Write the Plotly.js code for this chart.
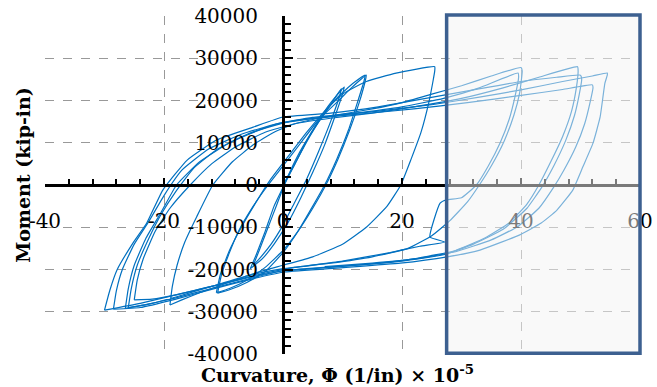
<!DOCTYPE html>
<html><head><meta charset="utf-8">
<script src="https://cdn.plot.ly/plotly-3.0.1.min.js"></script>
<style>html,body{margin:0;padding:0;background:#fff}#chart{width:657px;height:387px}</style>
</head><body><div id="chart"></div>
<script>
// Moment (kip-in) vs Curvature (1e-5 1/in), hysteresis cycles
const loop1 = [[0,0],[2,5000],[4,10500],[6,15000],[8,19000],[9.8,22800],[9.5,21000],[8,15000],[6,8000],[4,1500],[2,-4000],[0,-9500],[-2,-14000],[-4,-17500],[-5,-19000]];
const loop2 = [[-5,-19000],[-4,-15500],[-2.5,-10000],[-1,-4500],[0.5,1000],[2.5,7000],[5,13000],[7.5,18500],[9.5,22000],[10.3,23200],[10,21500],[8.8,16500],[7,9500],[5,3000],[3,-3000],[1,-8500],[-1.5,-14000],[-3.5,-17500],[-5.5,-19800]];
const loop3 = [[-5.5,-19800],[-4.5,-16500],[-3,-11000],[-1.5,-5000],[0.2,0],[2,5000],[4.5,11500],[7,17000],[9,20500],[10.5,22500],[12,24300],[13.8,26000],[13.6,24500],[12.5,19500],[11,13000],[9,6000],[7,0],[5,-5000],[2.5,-11000],[0,-16000],[-3,-20500],[-6,-23000],[-9,-24800],[-11,-25600]];
const loop4 = [[-11,-25600],[-10.3,-21000],[-9,-16000],[-7.5,-11000],[-5,-5000],[-2.5,0],[0,4500],[3,10000],[6,15500],[9,19500],[11.5,23000],[14,26000],[13.8,24500],[12.8,19500],[11.2,13000],[9.2,6000],[7.2,0],[5,-5500],[2.5,-11000],[0,-15500],[-3,-19500],[-6,-22500],[-9,-24500],[-11.2,-25500]];
const loop5 = [[-11.2,-25500],[-10.5,-21000],[-9,-15500],[-7,-10000],[-4.5,-4000],[-2,1500],[1,7000],[4,12500],[7,17500],[10,21500],[14,24500],[19,26500],[25.5,28000],[25.5,27000],[25.2,24500],[24.5,19500],[23.2,12500],[21.5,6000],[19.8,0],[17.5,-5000],[14,-10000],[10,-14000],[5,-17000],[0,-19000],[-5,-21000],[-10,-23500],[-14,-25500],[-17,-27200],[-19,-28400]];
const loop6 = [[-19,-28400],[-18.6,-24000],[-17.8,-19000],[-16.5,-13500],[-14.5,-7500],[-11.8,0],[-8.5,5500],[-5,9500],[-1.5,12500],[2,14500],[6,15800],[10,16800],[15,18000],[20,19500],[25,21500],[30,23500],[35,25800],[40,27800],[40.2,27000],[39.8,22000],[38.8,16500],[37.2,10500],[35,4500],[33,0],[31,-4000],[28,-8500],[25,-12000],[21,-15000],[15,-17000],[8,-18500],[0,-19800],[-6,-21500],[-12,-24000],[-18,-26500],[-22,-28000],[-26,-29000]];
const loop7 = [[-26,-29000],[-25.5,-24500],[-24.5,-19000],[-22.5,-12500],[-20.5,-7000],[-18,-1500],[-15,4000],[-11,8500],[-6,12000],[-1,14500],[5,16000],[12,17000],[20,18500],[27,20500],[33,23000],[39.5,26500],[39.6,25500],[39,21000],[38,15500],[36.5,10000],[34.5,4500],[32.5,0],[30,-3000],[27.5,-3500],[26.4,-4300],[24.7,-12300],[27.2,-13500],[23,-14500],[18,-16000],[10,-18000],[2,-19500],[-5,-21500],[-12,-24000],[-18,-26000],[-22,-27000],[-25,-27200]];
const loop8 = [[-25,-27200],[-24.5,-22500],[-23.5,-17500],[-21.5,-11000],[-19,-5500],[-15.6,0],[-12,5000],[-8,9000],[-3,12500],[2,14500],[8,15800],[15,17000],[22,18500],[30,20500],[37,23000],[43,25500],[49.5,28000],[49.6,27000],[49.3,23000],[48.5,17500],[47,11500],[45,5500],[43,0],[41,-4500],[38,-9000],[34,-12500],[29,-15500],[22,-17500],[14,-18800],[5,-19800],[0,-20300],[-6,-22000],[-12,-24000],[-18,-26000],[-24,-28000],[-30,-29600]];
const loop9 = [[-30,-29600],[-29.1,-24900],[-27.9,-20100],[-25.2,-13700],[-22.9,-9000],[-20.2,-1200],[-16.1,5900],[-11.1,10700],[-5,13700],[0,16100],[8,17000],[16,18500],[24,20500],[32,22500],[40,24500],[46,25500],[50,26000],[50.2,25000],[49.8,21500],[49,16500],[47.5,10500],[45.5,4500],[43.5,-500],[41,-5500],[37,-10500],[32,-14000],[27,-16500],[20,-18000],[12,-19000],[4,-19800],[0,-20300],[-6,-22300],[-12,-24500],[-18,-26700],[-23,-28300],[-26.5,-29200]];
const loop10 = [[-26.5,-29200],[-26,-24500],[-25,-19000],[-23,-12500],[-20.5,-6500],[-17.9,0],[-14,5500],[-9,10000],[-4,13000],[1,15000],[8,16300],[16,17500],[25,19000],[33,20800],[40,22500],[47,24500],[52,25800],[54.5,26500],[54.5,26000],[54.1,24100],[53.3,16100],[52.1,9900],[50.4,4300],[48.7,-1200],[46,-6000],[43.4,-9000],[39.8,-11800],[33.1,-15400],[27.6,-17000],[19.7,-18500],[9.6,-19600],[0.3,-20600],[-6,-22500],[-12,-24700],[-18,-27000],[-24,-29000],[-28.5,-29400]];
const loop11 = [[-28.5,-29400],[-28,-25000],[-27,-20000],[-25,-14000],[-22.5,-8500],[-20,-2500],[-17,3500],[-12.5,8500],[-7,12000],[-1.5,14300],[5,15700],[13,16800],[22,18000],[31,19500],[40,21200],[47,22600],[52,23700],[52.1,23000],[51.6,19500],[50.7,14500],[49.2,9000],[47.2,3500],[45.5,-500],[43,-5500],[39.5,-9800],[35,-13000],[29,-15800],[22,-17500],[15,-18500],[7,-19300]];

const xTickVals = [-40,-20,0,20,40,60];
const xTickText = ["-40","-20","0","20","40","60"];
const yTickVals = [-40000,-30000,-20000,-10000,0,10000,20000,30000,40000];
const yTickText = ["-40000","-30000","-20000","-10000","0","10000","20000","30000","40000"];
const xRange = [-40,60];
const yRange = [-40000,40000];
const boxRegion = {x0:27.5, x1:60};

const loops = [loop1,loop2,loop3,loop4,loop5,loop6,loop7,loop8,loop9,loop10,loop11];
const traces = loops.map(l => ({
  x: l.map(p=>p[0]), y: l.map(p=>p[1]),
  type:'scatter', mode:'lines', hoverinfo:'skip', showlegend:false,
  line:{color:'#0070C0', width:1.2, shape:'spline', smoothing:0.4}
}));

const toPaperX = v => (v - xRange[0]) / (xRange[1] - xRange[0]);

const tf = {family:'DejaVu Serif, serif', size:20, color:'#000'};
const layout = {
  width:657, height:387,
  margin:{l:45, r:17, t:16, b:33},
  paper_bgcolor:'#fff', plot_bgcolor:'#fff',
  showlegend:false,
  xaxis:{range:xRange, tickmode:'array', tickvals:xTickVals, ticktext:xTickText,
    anchor:'free', position:0.5, showline:true, linecolor:'#000', linewidth:3,
    zeroline:false, showgrid:true, gridcolor:'#999', griddash:'dash', gridwidth:1,
    ticks:'inside', ticklen:6, tickwidth:2, tickcolor:'#000', ticklabelstandoff:17,
    minor:{dtick:4, tick0:0, ticks:'inside', ticklen:5, tickwidth:2, tickcolor:'#000', showgrid:false},
    tickfont:tf, fixedrange:true},
  yaxis:{range:yRange, tickmode:'array', tickvals:yTickVals, ticktext:yTickText,
    anchor:'free', position:toPaperX(0), showline:true, linecolor:'#000', linewidth:3,
    zeroline:false, showgrid:true, gridcolor:'#999', griddash:'dash', gridwidth:1,
    ticks:'inside', ticklen:8, tickwidth:2, tickcolor:'#000', ticklabelstandoff:20,
    minor:{dtick:2000, tick0:0, ticks:'inside', ticklen:6, tickwidth:2, tickcolor:'#000', showgrid:false},
    tickfont:tf, fixedrange:true},
  shapes:[{type:'rect', xref:'paper', yref:'paper', x0:toPaperX(boxRegion.x0), x1:toPaperX(boxRegion.x1), y0:0.002, y1:1.003,
    line:{color:'#3D6090', width:3.5}, fillcolor:'rgba(244,244,244,0.5)', layer:'above'}],
  annotations:[
    {text:'Moment (kip-in)', xref:'paper', yref:'paper', x:-0.037, y:0.53, xanchor:'center', yanchor:'middle',
     textangle:-90, showarrow:false, font:{family:'DejaVu Serif, serif', size:19, color:'#000', weight:'bold'}},
    {text:'Curvature, Φ (1/in) × 10<sup>-5</sup>', xref:'paper', yref:'paper', x:0.492, y:-0.06, xanchor:'center', yanchor:'middle',
     showarrow:false, font:{family:'DejaVu Serif, serif', size:19, color:'#000', weight:'bold'}}
  ]
};
Plotly.newPlot('chart', traces, layout, {displayModeBar:false, staticPlot:true});
</script></body></html>
